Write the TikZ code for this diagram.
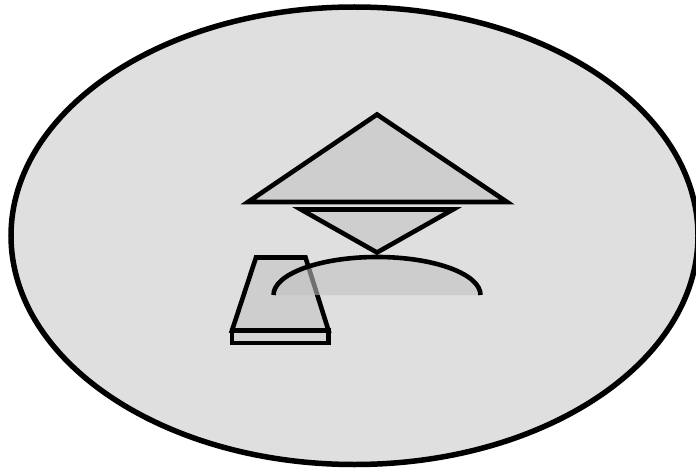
\documentclass[tikz,border=0pt]{standalone}
\definecolor{backgray}{RGB}{223,223,223}
\definecolor{partgray}{RGB}{206,206,206}
\definecolor{footgray}{RGB}{214,214,214}
\definecolor{shadowgray}{RGB}{193,193,193}

\begin{document}
\begin{tikzpicture}[
  x=1pt,
  y=-1pt,
  frame/.style={draw=black, line width=5.5pt, fill=backgray},
  part/.style={draw=black, line width=4.6pt, fill=partgray, line join=miter},
  foot/.style={draw=black, line width=4.6pt, fill=footgray},
  shade/.style={fill=shadowgray, fill opacity=0.58},
  rim/.style={draw=black, line width=4.6pt}
]
\useasboundingbox (0,0) rectangle (696,468);
\fill[white] (0,0) rectangle (696,468);

% outer ellipse
\draw[frame] (354.5,235.75) ellipse [x radius=343.5, y radius=228.75];

% upper and lower triangles
\draw[part] (377,114.5) -- (248,202) -- (507,202) -- cycle;
\draw[part] (301,209.5) -- (453,209.5) -- (377,252.5) -- cycle;

% trapezoid on its base
\draw[part] (256,257.5) -- (305.5,257.5) -- (328.5,330.5) -- (232,330.5) -- cycle;
\draw[foot] (232,330.5) rectangle (328.5,343);

% half ellipse with its shadow
\fill[shade] (273.5,295) arc [start angle=180, end angle=360, x radius=103.5, y radius=38] -- cycle;
\draw[rim] (273.5,295) arc [start angle=180, end angle=360, x radius=103.5, y radius=38];

\end{tikzpicture}
\end{document}
